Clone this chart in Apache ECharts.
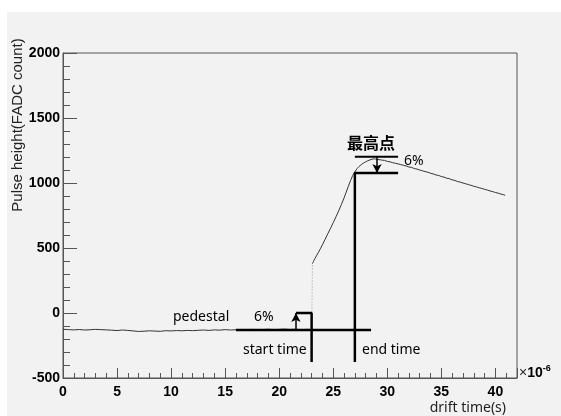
<!DOCTYPE html>
<html><head><meta charset="utf-8">
<script src="https://cdn.jsdelivr.net/npm/echarts@6/dist/echarts.min.js"></script>
<style>
html,body{margin:0;padding:0;background:#fff;}
#bg{position:absolute;left:7px;top:12px;right:0;bottom:0;background:#f2f2f2;}
#c{position:absolute;left:0;top:0;width:561px;height:416px;}
</style></head><body><div id="bg"></div><div id="c"></div>
<script>
// ---- data (x in 1e-6 s, y in FADC count) ----
const pedestalTrace = [
 [0,-125],[0.5,-128],[1,-130],[1.5,-127],[2,-131],[2.5,-129],[3,-126],[3.5,-128],[4,-130],[4.5,-132],
 [5,-135],[5.5,-131],[6,-134],[6.5,-138],[7,-142],[7.5,-140],[8,-137],[8.5,-139],[9,-141],[9.5,-136],
 [10,-138],[10.5,-135],[11,-137],[11.5,-134],[12,-136],[12.5,-133],[13,-131],[13.5,-134],[14,-130],[14.5,-132],
 [15,-128],[15.5,-131],[16,-129],[16.5,-127],[17,-130],[17.5,-126],[18,-129],[18.5,-127],[19,-125],[19.5,-128],
 [20,-126],[20.5,-124],[21,-127],[21.5,-125],[22,-128],[22.5,-126],[23,-127]
];
const jumpTrace = [[23.0,-127],[23.04,120],[23.08,380]];
const riseTrace = [
 [23.08,380],[23.3,418],[23.6,462],[24.0,525],[24.5,610],[25.0,695],[25.5,785],[26.0,885],
 [26.4,975],[26.8,1058],[27.2,1110],[27.6,1142],[28.0,1163],[28.4,1178],[28.8,1186],[29.0,1182]
];
const decayTrace = [
 [29.0,1182],[29.25,1180],[29.5,1176],[29.75,1174],[30.0,1166],[30.25,1163],[30.5,1156],[30.75,1152],
 [31.0,1147],[31.25,1141],[31.5,1136],[31.75,1131],[32.0,1123],[32.25,1120],[32.5,1111],[32.75,1107],
 [33.0,1100],[33.25,1094],[33.5,1088],[33.75,1083],[34.0,1075],[34.25,1070],[34.5,1062],[34.75,1058],
 [35.0,1050],[35.25,1045],[35.5,1037],[35.75,1033],[36.0,1024],[36.25,1020],[36.5,1011],[36.75,1007],
 [37.0,1000],[37.25,994],[37.5,988],[37.75,982],[38.0,975],[38.25,970],[38.5,963],[38.75,958],
 [39.0,951],[39.25,946],[39.5,939],[39.75,934],[40.0,927],[40.25,922],[40.5,915],[40.75,910],[40.9,905]
];
// ---- annotation values ----
const pedestalLevel = -131;
const pedestalSpan = [16.0, 28.5];
const startTime = 23.0;
const startArrowX = 21.55;
const startBoxTop = 0;
const endTime = 27.0;
const peakLevel = 1202;
const peakMarkLevel = 1077;
const peakSpanEnd = 31.0;
const peakArrowX = 29.05;
const markBottom = -377;
// ---- axes ----
const xRange = [0, 42];
const yRange = [-500, 2000];
const xStep = 5, yStep = 500;

const chart = echarts.init(document.getElementById('c'), null, {renderer:'canvas'});
const annStyle = {color:'#000', width:2.5};
const labelFont = {fontFamily:'Liberation Sans', fontWeight:'bold', fontSize:14, color:'#000'};
const txtFont = 'Noto Sans';
chart.setOption({
  backgroundColor:'transparent',
  animation:false,
  grid:{left:63, right:44, top:53, bottom:38, show:true, borderColor:'#555', borderWidth:1, backgroundColor:'transparent', outerBoundsMode:'none'},
  xAxis:{type:'value', min:xRange[0], max:xRange[1], interval:xStep,
    axisLine:{onZero:false, lineStyle:{color:'#555', width:1}},
    axisTick:{inside:true, length:10, lineStyle:{color:'#555'}},
    minorTick:{show:true, splitNumber:5, length:5, lineStyle:{color:'#555'}},
    splitLine:{show:false},
    axisLabel:Object.assign({margin:7, showMaxLabel:false, formatter:v=>String(v)}, labelFont)},
  yAxis:{type:'value', min:yRange[0], max:yRange[1], interval:yStep,
    axisLine:{show:true, onZero:false, lineStyle:{color:'#555', width:1}},
    axisTick:{show:true, inside:true, length:14, lineStyle:{color:'#555'}},
    minorTick:{show:true, splitNumber:5, length:7, lineStyle:{color:'#555'}},
    splitLine:{show:false},
    axisLabel:Object.assign({margin:3, formatter:v=>String(v)}, labelFont)},
  series:[
    {type:'line', data:pedestalTrace, symbol:'none', lineStyle:{color:'#333', width:1}},
    {type:'line', data:jumpTrace, symbol:'none', lineStyle:{color:'#999', width:1, type:[1,2]}},
    {type:'line', data:riseTrace, symbol:'none', smooth:0.3, lineStyle:{color:'#333', width:1}},
    {type:'line', data:decayTrace, symbol:'none', lineStyle:{color:'#333', width:1}},
    {type:'line', data:[[pedestalSpan[0],pedestalLevel],[pedestalSpan[1],pedestalLevel]], symbol:'none', lineStyle:annStyle, z:5},
    {type:'line', data:[[startArrowX,startBoxTop],[startTime,startBoxTop],[startTime,markBottom]], symbol:'none', lineStyle:annStyle, z:5},
    {type:'line', data:[[endTime,markBottom],[endTime,peakMarkLevel],[peakSpanEnd,peakMarkLevel]], symbol:'none', lineStyle:annStyle, z:5},
    {type:'line', data:[[endTime,peakLevel],[peakSpanEnd,peakLevel]], symbol:'none', lineStyle:{color:'#000', width:2}, z:5,
      markLine:{silent:true, symbol:['none','arrow'], symbolSize:[7,9], label:{show:false},
        lineStyle:{color:'#000', width:1.5, type:'solid'},
        data:[
          [{coord:[startArrowX,pedestalLevel]},{coord:[startArrowX,startBoxTop]}],
          [{coord:[peakArrowX,peakLevel]},{coord:[peakArrowX,peakMarkLevel]}]
        ]}}
  ],
  graphic:[
    {type:'text', x:18, y:125, rotation:Math.PI/2, z:10,
      style:{text:'Pulse height(FADC count)', font:'15px Liberation Sans', fill:'#222', textAlign:'center', textVerticalAlign:'middle'}},
    {type:'text', x:506, y:408, z:10,
      style:{text:'drift time(s)', font:'14px '+txtFont, fill:'#222', textAlign:'right', textVerticalAlign:'middle'}},
    {type:'text', x:519, y:373, z:10,
      style:{text:'×{b|10}{s|-6}', font:'14px Liberation Sans', fill:'#222', textVerticalAlign:'middle',
        rich:{b:{font:'bold 14px Liberation Sans', fill:'#000'}, s:{font:'bold 9px Liberation Sans', fill:'#000', verticalAlign:'top', padding:[0,0,8,0]}}}},
    {type:'text', x:371, y:143, z:10,
      style:{text:'最高点', font:'bold 16px "Noto Sans CJK SC"', fill:'#000', textAlign:'center', textVerticalAlign:'middle'}},
    {type:'text', x:404, y:161, z:10,
      style:{text:'6%', font:'14px '+txtFont, fill:'#000', textVerticalAlign:'middle'}},
    {type:'text', x:173, y:317, z:10,
      style:{text:'pedestal', font:'14px '+txtFont, fill:'#000', textVerticalAlign:'middle'}},
    {type:'text', x:254, y:317, z:10,
      style:{text:'6%', font:'14px '+txtFont, fill:'#000', textVerticalAlign:'middle'}},
    {type:'text', x:243, y:350, z:10,
      style:{text:'start time', font:'14px '+txtFont, fill:'#000', textVerticalAlign:'middle'}},
    {type:'text', x:362, y:350, z:10,
      style:{text:'end time', font:'14px '+txtFont, fill:'#000', textVerticalAlign:'middle'}}
  ]
});
</script></body></html>
